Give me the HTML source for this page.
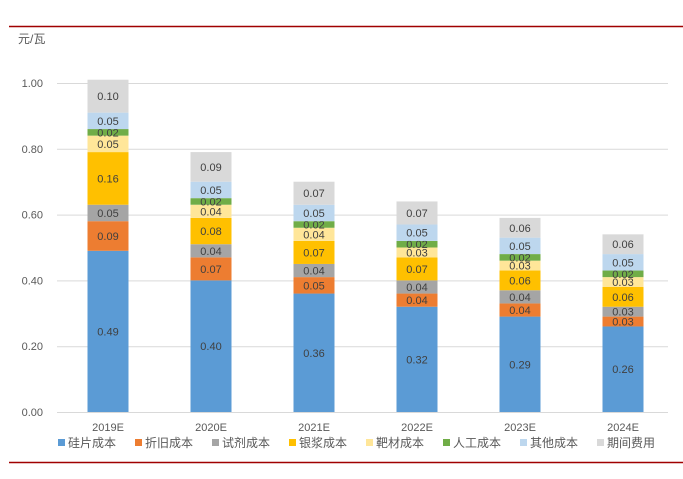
<!DOCTYPE html>
<html><head><meta charset="utf-8"><style>
body{margin:0;background:#fff;width:683px;height:474px;overflow:hidden;font-family:"Liberation Sans","Noto Sans CJK SC",sans-serif}
</style></head><body>
<svg id="c" width="683" height="474" xmlns="http://www.w3.org/2000/svg" font-family="Liberation Sans, Noto Sans CJK SC, sans-serif">
<line x1="9" y1="26.5" x2="683" y2="26.5" stroke="#a00000" stroke-width="1.5"/>
<line x1="9" y1="462.5" x2="683" y2="462.5" stroke="#a00000" stroke-width="1.5"/>
<text x="18" y="43" font-size="12" fill="#595959">元/瓦</text>
<g id="grid"></g><g id="bars"></g><g id="legend"></g>
</svg>
<script>
const categories=['2019E','2020E','2021E','2022E','2023E','2024E'];
const seriesNames=['硅片成本','折旧成本','试剂成本','银浆成本','靶材成本','人工成本','其他成本','期间费用'];
const colors=['#5b9bd5','#ed7d31','#a5a5a5','#ffc000','#ffe699','#70ad47','#bdd7ee','#d9d9d9'];
const wafer=[0.49,0.40,0.36,0.32,0.29,0.26];
const depreciation=[0.09,0.07,0.05,0.04,0.04,0.03];
const reagent=[0.05,0.04,0.04,0.04,0.04,0.03];
const silver=[0.16,0.08,0.07,0.07,0.06,0.06];
const target=[0.05,0.04,0.04,0.03,0.03,0.03];
const labor=[0.02,0.02,0.02,0.02,0.02,0.02];
const other=[0.05,0.05,0.05,0.05,0.05,0.05];
const period=[0.10,0.09,0.07,0.07,0.06,0.06];
const yTicks=['0.00','0.20','0.40','0.60','0.80','1.00'];
const series=[wafer,depreciation,reagent,silver,target,labor,other,period];
const NS='http://www.w3.org/2000/svg';
const y=v=>412-v*329;
const x=i=>108+i*103;
const bw=41;
function mk(t,a,p){const e=document.createElementNS(NS,t);for(const k in a)e.setAttribute(k,a[k]);p.appendChild(e);return e;}
const grid=document.getElementById('grid');
yTicks.forEach(t=>{
 const v=parseFloat(t);
 const l=mk('line',{x1:57,x2:668,y1:y(v)+0.5,y2:y(v)+0.5,stroke:'#d9d9d9','stroke-width':1},grid);
 
 
 const tx=mk('text',{x:43,y:y(v)+4,'font-size':11,fill:'#595959','text-anchor':'end'},grid);
 tx.textContent=t;
 
 
});
const bars=document.getElementById('bars');
categories.forEach((c,i)=>{
 let acc=0;
 series.forEach((s,k)=>{
  const v=s[i];
  const r=mk('rect',{x:x(i)-bw/2,y:y(acc+v),width:bw,height:v*329,fill:colors[k]},bars);
  
  
  const t=mk('text',{x:x(i),y:y(acc+v/2)+4,'font-size':11,fill:'#404040','text-anchor':'middle'},bars);
  t.textContent=v.toFixed(2);
  
  
  acc+=v;
 });
 const ct=mk('text',{x:x(i),y:431,'font-size':11,fill:'#595959','text-anchor':'middle'},bars);
 ct.textContent=c;
 
 
});
const lg=document.getElementById('legend');
const lx=[58,135,212,289,366,443,520,597];
seriesNames.forEach((n,k)=>{
 const g=mk('g',{},lg);
 
 
 mk('rect',{x:lx[k],y:439,width:7,height:7,fill:colors[k]},g);
 const t=mk('text',{x:lx[k]+10,y:447,'font-size':12,fill:'#595959'},g);
 t.textContent=n;
});
</script>
</body></html>
